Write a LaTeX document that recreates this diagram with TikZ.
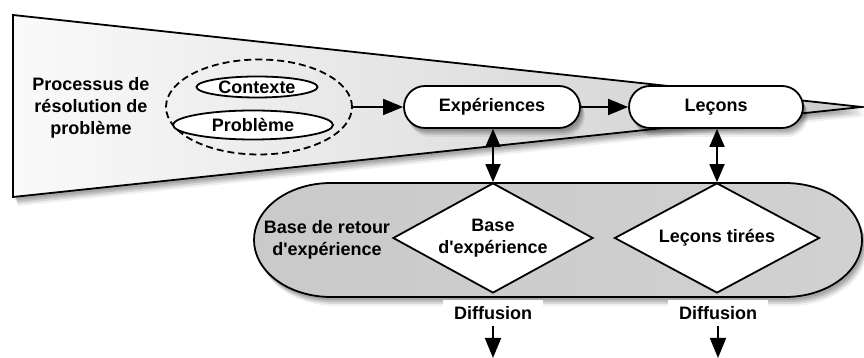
\documentclass[tikz,border=0pt]{standalone}
\usepackage{fontspec}
\setmainfont{Liberation Sans}[Ligatures=TeXOff]
\usetikzlibrary{shapes.geometric,arrows.meta}
\tikzset{
  softshadow/.style={
    preaction={fill=black,opacity=.12,transform canvas={xshift=2pt,yshift=-3pt}},
    preaction={fill=black,opacity=.12,transform canvas={xshift=3pt,yshift=-5pt}},
    preaction={fill=black,opacity=.10,transform canvas={xshift=4pt,yshift=-7pt}},
    preaction={fill=black,opacity=.06,transform canvas={xshift=5pt,yshift=-9pt}}},
  txt/.style={font=\fontsize{18}{22}\selectfont\bfseries, text=black, align=center},
  arr/.style={-{Triangle[length=20pt,width=16pt]}, line width=1.8pt},
  darr/.style={{Triangle[length=18pt,width=15pt]}-{Triangle[length=18pt,width=15pt]}, line width=1.8pt},
  pill/.style={txt, draw, line width=1.8pt, fill=white, rounded corners=21pt,
    minimum height=42pt, inner sep=0pt, softshadow},
  oval/.style={txt, draw, ellipse, line width=1.8pt, fill=white, inner sep=0pt},
  dia/.style={txt, draw, diamond, shape aspect=1.85, line width=1.8pt, fill=white,
    inner sep=0pt, minimum height=110pt},
  diff/.style={txt, fill=white, minimum width=100pt, minimum height=25pt, inner sep=0pt}
}
\begin{document}
\begin{tikzpicture}[x=1pt,y=1pt]
\useasboundingbox (0,0) rectangle (864,358);
% funnel
\path[softshadow, draw, line width=1.8pt, left color=gray!4, right color=gray!40]
  (13,343) -- (862,251) -- (13,161) -- cycle;
% stadium
\path[softshadow, draw, line width=1.8pt, left color=gray!42, middle color=gray!8, right color=gray!36]
  (331,175) -- (785,175) arc[start angle=90,end angle=-90,x radius=77,y radius=57]
  -- (331,61) arc[start angle=270,end angle=90,x radius=77,y radius=57] -- cycle;

\node[txt] (proc) at (91,250) {Processus de\\résolution de\\problème};
\node[draw, ellipse, dashed, dash pattern=on 7pt off 4pt, line width=1.8pt,
  minimum width=186pt, minimum height=95pt] (grp) at (259,251) {};
\node[oval, minimum width=121pt, minimum height=21pt] (ctx) at (257,271) {Contexte};
\node[oval, minimum width=160pt, minimum height=29pt] (pb) at (253,233) {Problème};

\node[pill, minimum width=176pt] (exp) at (492,251) {Expériences};
\node[pill, minimum width=174pt] (lec) at (716,251) {Leçons};

\node[txt] (bre) at (327,118) {Base de retour\\d'expérience};
\node[dia, minimum width=200pt] (bexp) at (493,120) {Base\\d'expérience};
\node[dia, minimum width=205pt] (lt) at (717,120) {Leçons tirées};

\node[diff] (d1) at (493,45) {Diffusion};
\node[diff] (d2) at (718,45) {Diffusion};
\coordinate (e1) at (493,0);
\coordinate (e2) at (718,0);

\draw[arr] (grp.east) -- (exp.west);
\draw[arr] (exp.east) -- (lec.west);
\draw[darr] (exp.south -| bexp.north) -- (bexp.north);
\draw[darr] (lec.south -| lt.north) -- (lt.north);
\draw[arr] (d1.south) -- (e1);
\draw[arr] (d2.south) -- (e2);
\end{tikzpicture}
\end{document}
